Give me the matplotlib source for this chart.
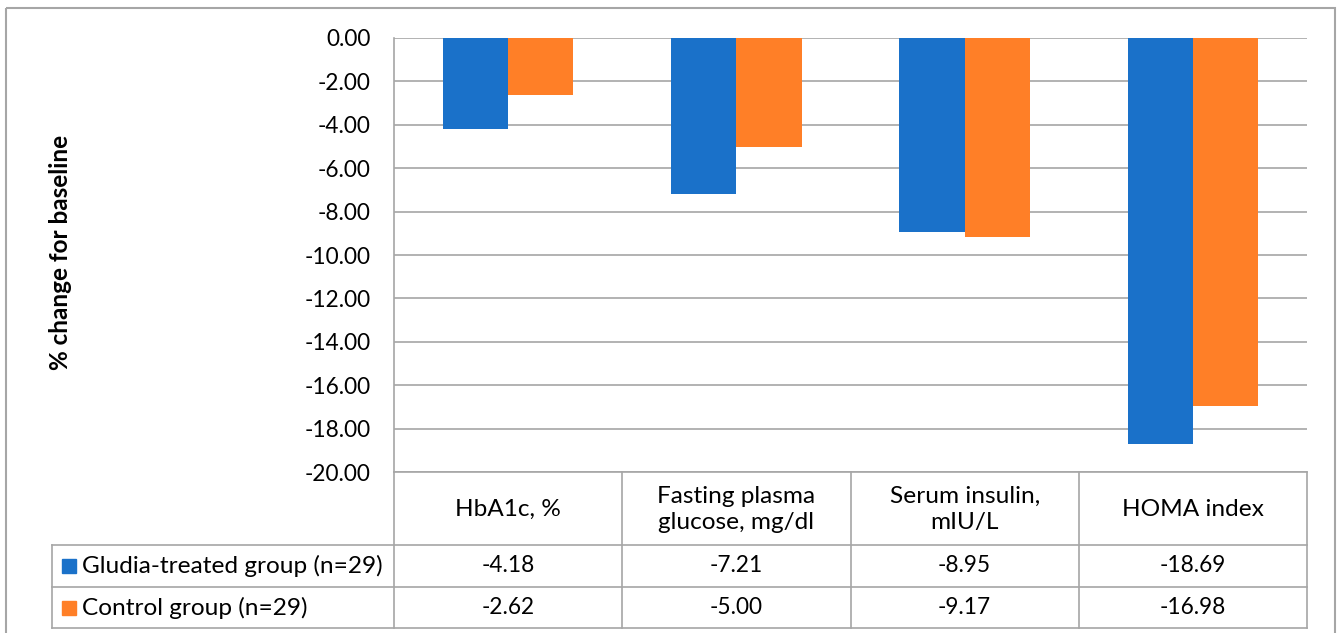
import matplotlib.pyplot as plt
from matplotlib.patches import Rectangle
import numpy as np

plt.rcParams['font.family'] = ['Lato', 'DejaVu Sans']

categories = ['HbA1c, %', 'Fasting plasma\nglucose, mg/dl', 'Serum insulin,\nmIU/L', 'HOMA index']
series_names = ['Gludia-treated group (n=29)', 'Control group (n=29)']
gludia = [-4.18, -7.21, -8.95, -18.69]
control = [-2.62, -5.00, -9.17, -16.98]
yticks = np.arange(0, -21, -2)

colors = ['#1A71C9', '#FF7F27']
grid_col = '#A6A6A6'

W, H = 1339, 633
fig = plt.figure(figsize=(W / 100, H / 100), dpi=100)

# pixel layout
px_left, px_right = 394, 1307
px_top, px_bot = 38, 472
row_lines = [472, 545, 587, 628]
tbl_left = 52

fs_num = 16.3
fs_txt = 17.6

ax = fig.add_axes([px_left / W, 1 - px_bot / H, (px_right - px_left) / W, (px_bot - px_top) / H])
x = np.arange(len(categories))
bw = 1 / 3.5
ax.bar(x - bw / 2, gludia, bw, color=colors[0], zorder=3)
ax.bar(x + bw / 2, control, bw, color=colors[1], zorder=3)
ax.set_xlim(-0.5, len(categories) - 0.5)
ax.set_ylim(-20, 0)
ax.set_yticks(yticks)
ax.set_yticklabels([f'{v:.2f}' for v in yticks], fontsize=fs_num)
ax.tick_params(axis='y', length=0, pad=17)
ax.set_xticks([])
ax.grid(axis='y', color=grid_col, linewidth=1.2, zorder=0)
ax.set_axisbelow(True)
for s in ['top', 'right', 'bottom']:
    ax.spines[s].set_visible(False)
ax.spines['left'].set_color(grid_col)
ax.spines['left'].set_linewidth(1.2)
ax.patch.set_alpha(0)

# overlay for table and frame in pixel coordinates
ov = fig.add_axes([0, 0, 1, 1])
ov.set_xlim(0, W)
ov.set_ylim(H, 0)
ov.axis('off')
ov.patch.set_alpha(0)

ov.add_patch(Rectangle((6, 8), 1329, 640, fill=False, edgecolor=grid_col, linewidth=1.5))

cat_w = (px_right - px_left) / len(categories)
col_edges = [px_left + i * cat_w for i in range(len(categories) + 1)]
lw = 1.2
# vertical lines
for cx in col_edges:
    ov.plot([cx, cx], [px_bot, row_lines[-1]], color=grid_col, lw=lw)
ov.plot([tbl_left, tbl_left], [row_lines[1], row_lines[-1]], color=grid_col, lw=lw)
# horizontal lines
ov.plot([px_left, px_right], [row_lines[0], row_lines[0]], color=grid_col, lw=lw)
for ry in row_lines[1:]:
    ov.plot([tbl_left, px_right], [ry, ry], color=grid_col, lw=lw)

for i, cat in enumerate(categories):
    cx = (col_edges[i] + col_edges[i + 1]) / 2
    ov.text(cx, (row_lines[0] + row_lines[1]) / 2 + 1, cat, ha='center', va='center',
            fontsize=fs_txt, linespacing=1.35)
    for r, vals in enumerate([gludia, control]):
        cy = (row_lines[r + 1] + row_lines[r + 2]) / 2
        ov.text(cx, cy, f'{vals[i]:.2f}', ha='center', va='center', fontsize=fs_num)

for r, name in enumerate(series_names):
    cy = (row_lines[r + 1] + row_lines[r + 2]) / 2
    ov.add_patch(Rectangle((62, cy - 7), 14, 14, color=colors[r]))
    ov.text(82, cy, name, ha='left', va='center', fontsize=fs_txt)

ov.text(60, 252, '% change for baseline', rotation=90, ha='center', va='center',
        fontsize=17.5, fontweight='bold')

fig.savefig('out.png', dpi=100)
